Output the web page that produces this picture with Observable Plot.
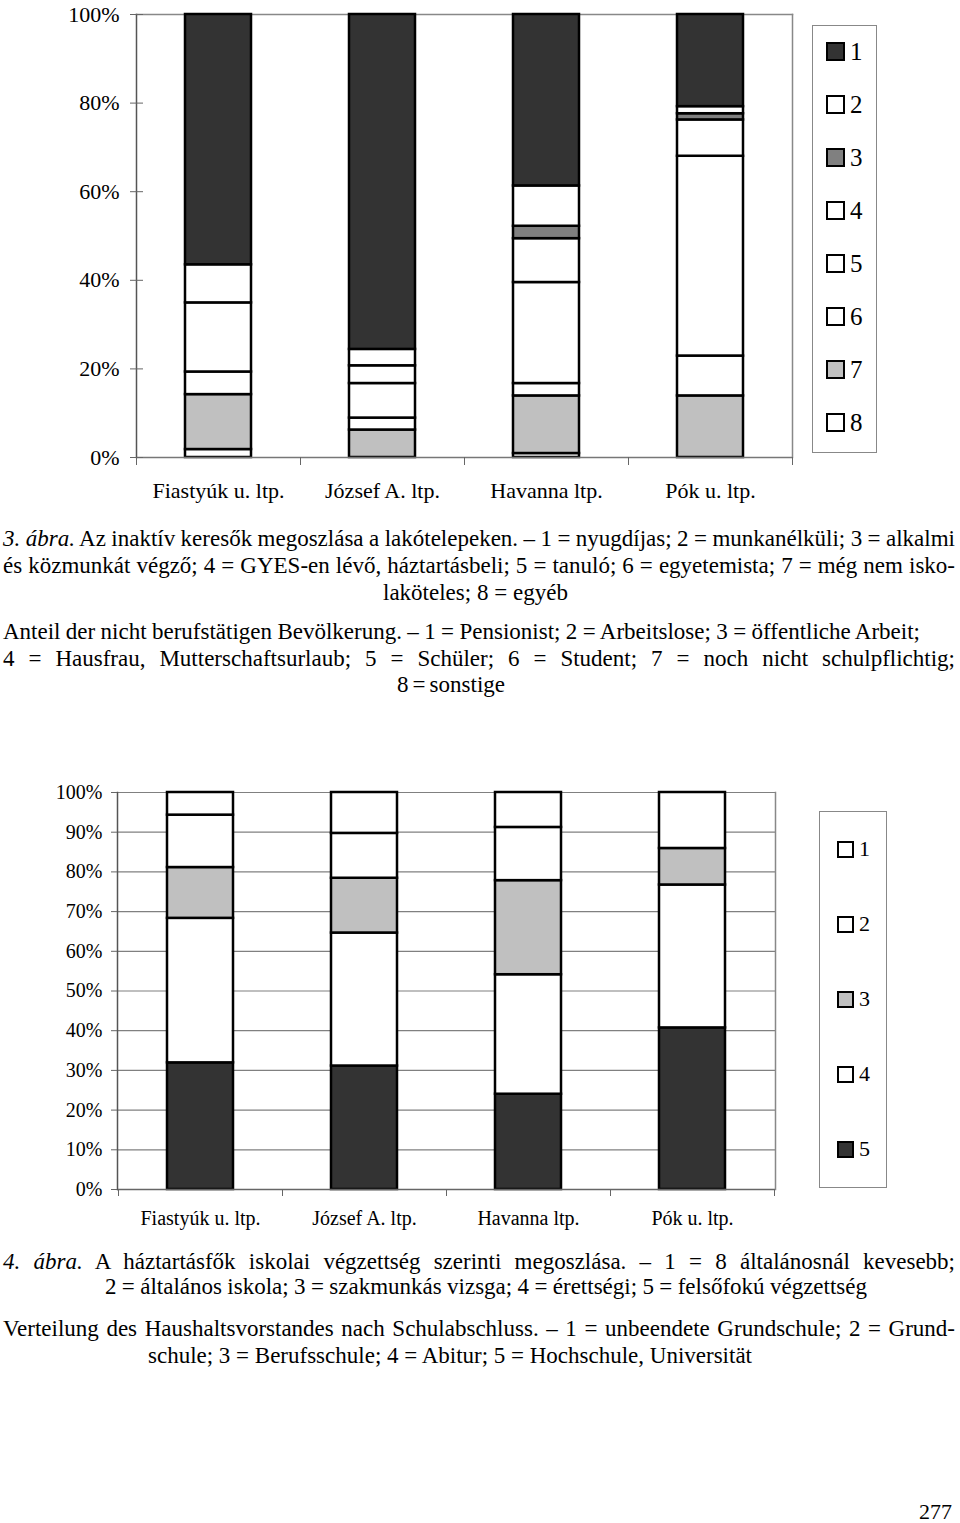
<!DOCTYPE html>
<html><head><meta charset="utf-8">
<script src="https://cdn.jsdelivr.net/npm/d3@7"></script>
<script src="https://cdn.jsdelivr.net/npm/@observablehq/plot@0.6"></script>
<style>
body{margin:0;background:#fff;}
#page{position:relative;width:960px;height:1523px;font-family:"Liberation Serif","Times New Roman",serif;color:#000;overflow:hidden;background:#fff;}
.chart{position:absolute;left:0;}
.line{position:absolute;white-space:nowrap;font-size:23px;line-height:27px;}
.legend{position:absolute;border:1px solid #888;box-sizing:border-box;background:#fff;}
.sw{position:absolute;box-sizing:border-box;border:2.5px solid #000;}
.lab{position:absolute;line-height:1;}
</style></head>
<body><div id="page"></div>
<script>
// ---------- DATA ----------
const sites = ["Fiastyúk u. ltp.", "József A. ltp.", "Havanna ltp.", "Pók u. ltp."];

// Figure 3: inactive population, share (%) by category per site
const inactiveCats = ["1", "2", "3", "4", "5", "6", "7", "8"];
const inactiveColors = ["#333333", "#ffffff", "#808080", "#ffffff", "#ffffff", "#ffffff", "#c0c0c0", "#ffffff"];
const inactive1 = [56.5, 75.6, 38.7, 20.8];
const inactive2 = [8.6, 3.7, 9.1, 1.6];
const inactive3 = [0, 0, 2.8, 1.4];
const inactive4 = [0, 4.0, 9.9, 8.2];
const inactive5 = [15.6, 7.8, 22.8, 45.1];
const inactive6 = [5.1, 2.7, 2.8, 9.0];
const inactive7 = [12.4, 6.2, 13.0, 13.9];
const inactive8 = [1.8, 0, 0.9, 0];
const inactiveTicks = [0, 20, 40, 60, 80, 100];

// Figure 4: heads of household by education (%)
const eduCats = ["1", "2", "3", "4", "5"];
const eduColors = ["#ffffff", "#ffffff", "#c0c0c0", "#ffffff", "#333333"];
const edu1 = [5.7, 10.3, 8.8, 0];
const edu2 = [13.2, 11.3, 13.4, 14.1];
const edu3 = [12.8, 13.8, 23.7, 9.2];
const edu4 = [36.4, 33.5, 30.1, 36.0];
const edu5 = [31.9, 31.1, 24.0, 40.7];
const eduTicks = [0, 10, 20, 30, 40, 50, 60, 70, 80, 90, 100];

// ---------- TABLES ----------
const inactiveSeries = [inactive1, inactive2, inactive3, inactive4, inactive5, inactive6, inactive7, inactive8];
const inactiveTable = [];
sites.forEach((s, i) => {
  for (let c = inactiveCats.length - 1; c >= 0; c--) {
    const v = inactiveSeries[c][i];
    if (v > 0) inactiveTable.push({site: s, cat: inactiveCats[c], value: v});
  }
});
const eduSeries = [edu1, edu2, edu3, edu4, edu5];
const eduTable = [];
sites.forEach((s, i) => {
  for (let c = eduCats.length - 1; c >= 0; c--) {
    const v = eduSeries[c][i];
    if (v > 0) eduTable.push({site: s, cat: eduCats[c], value: v});
  }
});

const page = document.getElementById("page");
const FONT = '"Liberation Serif","Times New Roman",serif';

// ---------- CHART 1 ----------
const c1 = Plot.plot({
  width: 960, height: 505,
  marginTop: 14, marginLeft: 136, marginRight: 168, marginBottom: 48,
  style: {fontFamily: FONT, fontSize: "22px", color: "#000", background: "transparent", overflow: "visible"},
  x: {domain: sites, paddingInner: 0.6, paddingOuter: 0.3, label: null},
  y: {domain: [0, 100], label: null},
  color: {domain: inactiveCats, range: inactiveColors},
  marks: [
    Plot.frame({anchor: "top", stroke: "#888", strokeWidth: 1.5}),
    Plot.frame({anchor: "right", stroke: "#888", strokeWidth: 1.5}),
    Plot.barY(inactiveTable, {x: "site", y: "value", fill: "cat", stroke: "#000", strokeWidth: 2.5}),
    Plot.ruleY([0], {stroke: "#777", strokeWidth: 1.5}),
    Plot.frame({anchor: "left", stroke: "#555", strokeWidth: 1.5}),
    Plot.axisY({ticks: inactiveTicks, tickFormat: d => d + "%", tickSize: 13, dx: 7, tickPadding: 11, stroke: "#666", label: null}),
    Plot.axisX({tickSize: 0, tickPadding: 25, label: null}),
    Plot.axisX({tickSize: 8, dx: 82, tickFormat: () => "", stroke: "#666", label: null}),
    Plot.axisX({tickSize: 8, dx: -82, tickFormat: () => "", stroke: "#666", label: null})
  ]
});
c1.classList.add("chart");
c1.style.top = "0px";
page.appendChild(c1);

// ---------- CHART 2 ----------
const c2 = Plot.plot({
  width: 960, height: 460,
  marginTop: 22, marginLeft: 117, marginRight: 185, marginBottom: 41,
  style: {fontFamily: FONT, fontSize: "20px", color: "#000", background: "transparent", overflow: "visible"},
  x: {domain: sites, paddingInner: 0.6, paddingOuter: 0.3, label: null},
  y: {domain: [0, 100], label: null},
  color: {domain: eduCats, range: eduColors},
  marks: [
    Plot.gridY(eduTicks, {stroke: "#808080", strokeOpacity: 1, strokeWidth: 1.2}),
    Plot.frame({anchor: "right", stroke: "#888", strokeWidth: 1.5}),
    Plot.barY(eduTable, {x: "site", y: "value", fill: "cat", stroke: "#000", strokeWidth: 2.5}),
    Plot.ruleY([0], {stroke: "#666", strokeWidth: 1.5}),
    Plot.frame({anchor: "left", stroke: "#555", strokeWidth: 1.5}),
    Plot.axisY({ticks: eduTicks, tickFormat: d => d + "%", tickSize: 6, tickPadding: 9, stroke: "#666", label: null}),
    Plot.axisX({tickSize: 0, tickPadding: 21, label: null}),
    Plot.axisX({tickSize: 7, dx: 82, tickFormat: () => "", stroke: "#666", label: null}),
    Plot.axisX({tickSize: 7, dx: -82, tickFormat: () => "", stroke: "#666", label: null})
  ]
});
c2.classList.add("chart");
c2.style.top = "770px";
page.appendChild(c2);

// ---------- LEGENDS ----------
function legend(cats, colors, box, sw, first, step, labelX, fontSize) {
  const lg = document.createElement("div");
  lg.className = "legend";
  Object.assign(lg.style, {left: box[0] + "px", top: box[1] + "px", width: box[2] + "px", height: box[3] + "px"});
  page.appendChild(lg);
  cats.forEach((c, i) => {
    const cy = first + i * step;
    const s = document.createElement("div");
    s.className = "sw";
    Object.assign(s.style, {left: sw[0] + "px", top: (cy - sw[1] / 2) + "px", width: sw[1] + "px", height: sw[1] + "px", background: colors[i]});
    page.appendChild(s);
    const t = document.createElement("div");
    t.className = "lab";
    t.textContent = c;
    Object.assign(t.style, {left: labelX + "px", top: (cy - fontSize * 0.5) + "px", fontSize: fontSize + "px"});
    page.appendChild(t);
  });
}
legend(inactiveCats, inactiveColors, [812, 25, 65, 428], [826, 19], 51, 53, 850, 25);
legend(eduCats, eduColors, [819, 811, 68, 377], [837, 17], 849, 75, 859, 22);

// ---------- CAPTIONS ----------
const captionLines = [
  {top: 525, x0: 3, x1: 955, html: "<i>3. ábra.</i> Az inaktív keresők megoszlása a lakótelepeken. – 1 = nyugdíjas; 2 = munkanélküli; 3 = alkalmi"},
  {top: 552, x0: 3, x1: 955, html: "és közmunkát végző; 4 = GYES-en lévő, háztartásbeli; 5 = tanuló; 6 = egyetemista; 7 = még nem isko-"},
  {top: 579, x0: 383, x1: 568, html: "laköteles; 8 = egyéb"},
  {top: 618, x0: 3, x1: 920, html: "Anteil der nicht berufstätigen Bevölkerung. – 1 = Pensionist; 2 = Arbeitslose; 3 = öffentliche Arbeit;"},
  {top: 645, x0: 3, x1: 955, html: "4 = Hausfrau, Mutterschaftsurlaub; 5 = Schüler; 6 = Student; 7 = noch nicht schulpflichtig;"},
  {top: 671, x0: 397, x1: 505, html: "8 = sonstige"},
  {top: 1248, x0: 3, x1: 955, html: "<i>4. ábra.</i> A háztartásfők iskolai végzettség szerinti megoszlása. – 1 = 8 általánosnál kevesebb;"},
  {top: 1273, x0: 105, x1: 867, html: "2 = általános iskola; 3 = szakmunkás vizsga; 4 = érettségi; 5 = felsőfokú végzettség"},
  {top: 1315, x0: 3, x1: 955, html: "Verteilung des Haushaltsvorstandes nach Schulabschluss. – 1 = unbeendete Grundschule; 2 = Grund-"},
  {top: 1342, x0: 148, x1: 752, html: "schule; 3 = Berufsschule; 4 = Abitur; 5 = Hochschule, Universität"}
];
captionLines.forEach(l => {
  const d = document.createElement("div");
  d.className = "line";
  d.style.top = l.top + "px";
  d.style.left = l.x0 + "px";
  const sp = document.createElement("span");
  sp.innerHTML = l.html;
  d.appendChild(sp);
  page.appendChild(d);
  const w = sp.getBoundingClientRect().width;
  const n = (sp.textContent.match(/ /g) || []).length;
  if (n > 0) d.style.wordSpacing = (((l.x1 - l.x0) - w) / n) + "px";
});

const pn = document.createElement("div");
pn.textContent = "277";
Object.assign(pn.style, {position: "absolute", right: "8px", top: "1502px", fontSize: "22px", lineHeight: "20px"});
page.appendChild(pn);
</script>
</body></html>
